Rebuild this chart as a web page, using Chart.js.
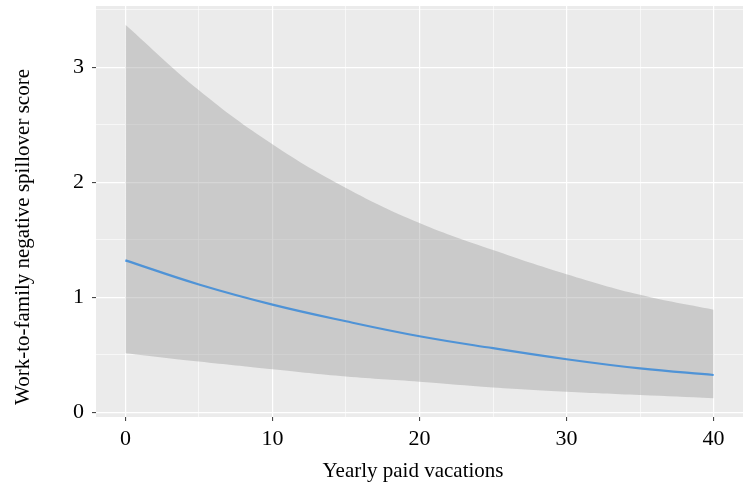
<!DOCTYPE html>
<html>
<head>
<meta charset="utf-8">
<script src="https://cdn.jsdelivr.net/npm/chart.js@4.4.1/dist/chart.umd.min.js"></script>
<style>
  html, body { margin: 0; padding: 0; background: #ffffff; }
  #wrap { width: 750px; height: 497px; }
</style>
</head>
<body>
<div id="wrap"><canvas id="canvas"></canvas></div>
<script>
// values
var vacations = [0, 5, 10, 15, 20, 25, 30, 35, 40];
var fitted = [1.32, 1.11, 0.935, 0.79, 0.66, 0.556, 0.46, 0.38, 0.323];
var upperCI = [3.37, 2.80, 2.33, 1.95, 1.645, 1.41, 1.20, 1.02, 0.89];
var lowerCI = [0.513, 0.44, 0.373, 0.31, 0.265, 0.215, 0.177, 0.148, 0.12];

var xTicks = [0, 5, 10, 15, 20, 25, 30, 35, 40];
var yTicks = [0, 0.5, 1, 1.5, 2, 2.5, 3, 3.5];

var xTitle = "Yearly paid vacations";
var yTitle = "Work-to-family negative spillover score";

var fontName = "'Liberation Serif', 'Times New Roman', serif";

function toPoints(ys) {
    return vacations.map(function (x, i) { return { x: x, y: ys[i] }; });
}

function isMajorX(v) { return v % 10 === 0; }
function isMajorY(v) { return v % 1 === 0; }

// grey ggplot panel behind everything
var panelBg = {
    id: "panelBg",
    beforeDraw: function (chart) {
        var a = chart.chartArea;
        var ctx = chart.ctx;
        ctx.save();
        ctx.fillStyle = "#ebebeb";
        ctx.fillRect(a.left, a.top, a.right - a.left, a.bottom - a.top);
        ctx.restore();
    }
};

// axis titles, placed where the reference has them
var axisTitles = {
    id: "axisTitles",
    afterDraw: function (chart) {
        var ctx = chart.ctx;
        ctx.save();
        ctx.fillStyle = "#000000";
        ctx.font = "21px " + fontName;
        ctx.textAlign = "center";
        ctx.textBaseline = "alphabetic";
        ctx.fillText(xTitle, 413, 477);

        ctx.translate(23, 237);
        ctx.rotate(-Math.PI / 2);
        ctx.textBaseline = "middle";
        ctx.fillText(yTitle, 0, 0);
        ctx.restore();
    }
};

var ctx = document.getElementById("canvas").getContext("2d");
var myChart = new Chart(ctx, {
    type: "line",
    data: {
        datasets: [{
            label: "upper",
            data: toPoints(upperCI),
            borderWidth: 0,
            pointRadius: 0,
            backgroundColor: "rgba(153,153,153,0.4)",
            fill: "+1",
            tension: 0.4
        }, {
            label: "lower",
            data: toPoints(lowerCI),
            borderWidth: 0,
            pointRadius: 0,
            fill: false,
            tension: 0.4
        }, {
            label: "fit",
            data: toPoints(fitted),
            borderColor: "#1e8fff",
            borderWidth: 2.2,
            pointRadius: 0,
            fill: false,
            tension: 0.4
        }]
    },
    options: {
        responsive: true,
        maintainAspectRatio: false,
        animation: false,
        layout: { padding: { top: 6, right: 7, left: 0, bottom: 0 } },
        plugins: {
            legend: { display: false },
            tooltip: { enabled: false }
        },
        scales: {
            x: {
                type: "linear",
                min: -2,
                max: 42,
                afterBuildTicks: function (scale) {
                    scale.ticks = xTicks.map(function (v) { return { value: v }; });
                },
                afterFit: function (scale) {
                    scale.height = 80;
                    scale.paddingLeft = 0;
                    scale.paddingRight = 0;
                },
                border: { display: false },
                grid: {
                    color: "#ffffff",
                    lineWidth: function (c) { return isMajorX(c.tick.value) ? 1.2 : 0.6; },
                    tickColor: function (c) { return isMajorX(c.tick.value) ? "#333333" : "rgba(0,0,0,0)"; },
                    tickLength: 4,
                    tickWidth: 1
                },
                ticks: {
                    color: "#000000",
                    font: { family: fontName, size: 22 },
                    padding: 5,
                    maxRotation: 0,
                    autoSkip: false,
                    callback: function (v) { return isMajorX(v) ? String(v) : ""; }
                }
            },
            y: {
                type: "linear",
                min: -0.0425,
                max: 3.5325,
                afterBuildTicks: function (scale) {
                    scale.ticks = yTicks.map(function (v) { return { value: v }; });
                },
                afterFit: function (scale) {
                    scale.width = 96;
                    scale.paddingTop = 0;
                    scale.paddingBottom = 0;
                },
                border: { display: false },
                grid: {
                    color: "#ffffff",
                    lineWidth: function (c) { return isMajorY(c.tick.value) ? 1.2 : 0.6; },
                    tickColor: function (c) { return isMajorY(c.tick.value) ? "#333333" : "rgba(0,0,0,0)"; },
                    tickLength: 4,
                    tickWidth: 1
                },
                ticks: {
                    color: "#000000",
                    font: { family: fontName, size: 22 },
                    padding: 8,
                    autoSkip: false,
                    callback: function (v) { return isMajorY(v) ? String(v) : ""; }
                }
            }
        }
    },
    plugins: [panelBg, axisTitles]
});
</script>
</body>
</html>
